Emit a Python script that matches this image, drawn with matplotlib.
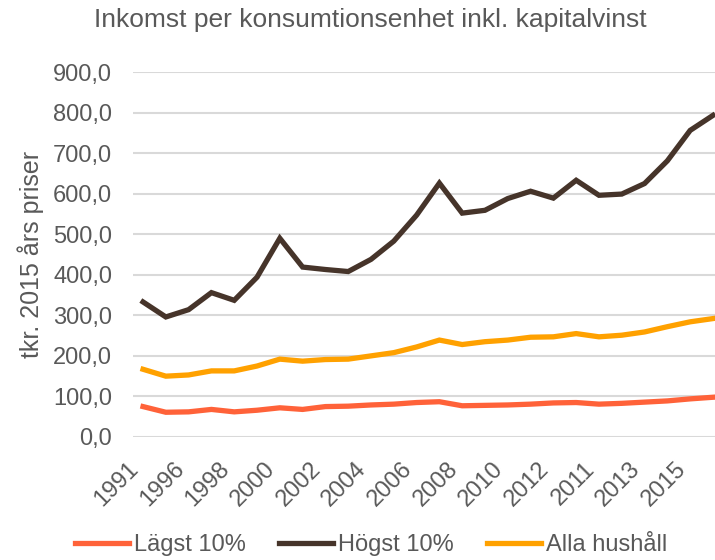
import matplotlib
matplotlib.use('Agg')
import matplotlib.pyplot as plt
from matplotlib.ticker import FuncFormatter

plt.rcParams['font.family'] = ['Liberation Sans', 'DejaVu Sans']

years = ['1991', '1995', '1996', '1997', '1998', '1999', '2000', '2001', '2002',
         '2003', '2004', '2005', '2006', '2007', '2008', '2009', '2010', '2011',
         '2012', '2013', '2011', '2012', '2013', '2014', '2015', '2016']

lagst = [75, 61, 62, 68, 62, 66, 72, 68, 75, 76, 79, 81, 85, 87, 77, 78,
         79, 81, 84, 85, 81, 83, 86, 89, 94, 98]
hogst = [333, 296, 314, 356, 337, 394, 490, 419, 413, 408, 438, 483, 547, 626,
         552, 559, 588, 606, 589, 633, 596, 599, 625, 681, 756, 793]
alla = [167, 150, 153, 163, 163, 175, 192, 187, 191, 192, 200, 208, 222, 239,
        228, 235, 239, 246, 247, 255, 247, 251, 259, 272, 284, 292]

series_names = ['Lägst 10%', 'Högst 10%', 'Alla hushåll']
colors = ['#FF6239', '#46342A', '#FFA100']
grey = '#595959'


def main():
    fig = plt.figure(figsize=(7.15, 5.6), dpi=100)
    ax = fig.add_axes([133 / 715, 1 - 437 / 560, 1 - 133 / 715, (437 - 72) / 560])

    x = list(range(len(years)))
    for vals, name, c in zip([lagst, hogst, alla], series_names, colors):
        ax.plot(x, vals, color=c, lw=3.8, label=name, solid_joinstyle='miter')

    ax.set_ylim(0, 900)
    ax.set_yticks(range(0, 901, 100))
    ax.yaxis.set_major_formatter(FuncFormatter(lambda v, p: f'{v:.1f}'.replace('.', ',')))
    ax.set_xlim(-0.44, 25.09)
    ax.set_xticks(x[::2])
    ax.set_xticklabels(years[::2], rotation=45, ha='right', rotation_mode='default')

    ax.grid(axis='y', color='#D9D9D9', lw=1.5)
    ax.set_axisbelow(True)
    for s in ax.spines.values():
        s.set_visible(False)
    ax.tick_params(axis='y', length=0, pad=15, labelsize=17, labelcolor=grey)
    ax.tick_params(axis='x', length=0, pad=15, labelsize=17, labelcolor=grey)

    fig.text(370 / 715, 1 - 20 / 560, 'Inkomst per konsumtionsenhet inkl. kapitalvinst',
             ha='center', va='center', fontsize=19, color=grey)
    fig.text(31 / 715, 1 - 254 / 560, 'tkr. 2015 års priser', rotation=90,
             ha='center', va='center', fontsize=18, color=grey)

    fig.legend(loc='center', bbox_to_anchor=(371 / 715, 1 - 545 / 560), ncol=3,
               frameon=False, fontsize=17, labelcolor=grey, handlelength=2.3,
               handletextpad=0.21, columnspacing=1.4, borderaxespad=0)

    fig.savefig('out.png', dpi=100)


if __name__ == "__main__":
    main()
